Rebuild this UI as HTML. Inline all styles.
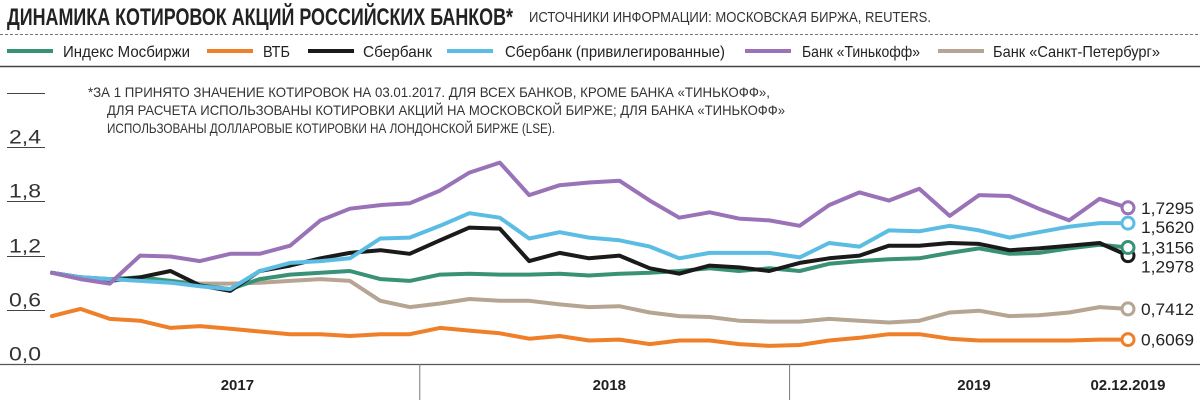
<!DOCTYPE html>
<html><head><meta charset="utf-8"><style>
html,body{margin:0;padding:0;background:#fff;width:1200px;height:400px;overflow:hidden}
svg{display:block;font-family:"Liberation Sans",sans-serif}
</style></head><body>
<svg id="chart" width="1200" height="400" viewBox="0 0 1200 400">
<text x="7" y="25" font-size="24" font-weight="bold" fill="#222" textLength="506" lengthAdjust="spacingAndGlyphs">ДИНАМИКА КОТИРОВОК АКЦИЙ РОССИЙСКИХ БАНКОВ*</text>
<text x="529" y="22" font-size="15" fill="#333" textLength="402" lengthAdjust="spacingAndGlyphs">ИСТОЧНИКИ ИНФОРМАЦИИ: МОСКОВСКАЯ БИРЖА, REUTERS.</text>
<line x1="0" y1="34.5" x2="1200" y2="34.5" stroke="#777" stroke-dasharray="3,2"/>
<line x1="0" y1="66.5" x2="1200" y2="66.5" stroke="#444" stroke-width="1.5"/>
<g id="legend"></g>
<g font-size="14" fill="#333">
<text x="88" y="97" textLength="682" lengthAdjust="spacingAndGlyphs">*ЗА 1 ПРИНЯТО ЗНАЧЕНИЕ КОТИРОВОК НА 03.01.2017. ДЛЯ ВСЕХ БАНКОВ, КРОМЕ БАНКА «ТИНЬКОФФ»,</text>
<text x="107" y="115" textLength="678" lengthAdjust="spacingAndGlyphs">ДЛЯ РАСЧЕТА ИСПОЛЬЗОВАНЫ КОТИРОВКИ АКЦИЙ НА МОСКОВСКОЙ БИРЖЕ; ДЛЯ БАНКА «ТИНЬКОФФ»</text>
<text x="107" y="133" textLength="448" lengthAdjust="spacingAndGlyphs">ИСПОЛЬЗОВАНЫ ДОЛЛАРОВЫЕ КОТИРОВКИ НА ЛОНДОНСКОЙ БИРЖЕ (LSE).</text>
</g>
<g id="yaxis"></g>
<line x1="0" y1="364.5" x2="1200" y2="364.5" stroke="#555" stroke-width="1.2"/>
<g id="xaxis"></g>
<g id="series"></g>
<g id="ends"></g>
</svg>
<script>
const days = [0,28,57,87,117,146,176,205,235,265,294,324,353,383,412,442,471,501,530,560,590,619,649,678,708,738,767,797,826,856,886,915,945,974,1004,1034,1062];
const moex = [1.01,0.96,0.94,0.96,0.92,0.87,0.83,0.94,0.99,1.01,1.03,0.94,0.92,0.99,1.00,0.99,0.99,1.00,0.98,1.00,1.01,1.03,1.06,1.03,1.06,1.03,1.11,1.14,1.16,1.17,1.23,1.28,1.22,1.23,1.28,1.32,1.29];
const vtb = [0.53,0.61,0.50,0.48,0.40,0.42,0.39,0.36,0.33,0.33,0.31,0.33,0.33,0.40,0.37,0.34,0.28,0.31,0.26,0.27,0.22,0.26,0.26,0.22,0.20,0.21,0.26,0.29,0.33,0.33,0.28,0.26,0.26,0.26,0.26,0.27,0.27];
const sber = [1.01,0.96,0.92,0.96,1.03,0.87,0.81,1.03,1.09,1.17,1.23,1.26,1.22,1.37,1.51,1.50,1.14,1.23,1.17,1.20,1.06,1.00,1.09,1.07,1.03,1.12,1.17,1.20,1.31,1.31,1.34,1.33,1.26,1.28,1.31,1.34,1.20];
const sberPref = [1.01,0.96,0.94,0.92,0.90,0.86,0.83,1.03,1.12,1.14,1.17,1.39,1.40,1.53,1.67,1.62,1.39,1.46,1.40,1.37,1.30,1.17,1.23,1.23,1.23,1.18,1.34,1.30,1.48,1.47,1.53,1.48,1.40,1.46,1.52,1.56,1.56];
const tinkoff = [1.01,0.94,0.89,1.20,1.19,1.14,1.22,1.22,1.31,1.59,1.72,1.76,1.78,1.92,2.12,2.23,1.87,1.98,2.01,2.03,1.81,1.62,1.68,1.61,1.59,1.53,1.76,1.90,1.81,1.94,1.64,1.87,1.86,1.72,1.59,1.83,1.73];
const spb = [1.01,0.96,0.94,0.94,0.92,0.89,0.89,0.90,0.92,0.94,0.92,0.70,0.63,0.67,0.72,0.70,0.70,0.66,0.63,0.64,0.57,0.53,0.52,0.48,0.47,0.47,0.50,0.48,0.46,0.48,0.57,0.59,0.53,0.54,0.57,0.63,0.61];
const seriesNames = ["Индекс Мосбиржи","ВТБ","Сбербанк","Сбербанк (привилегированные)","Банк «Тинькофф»","Банк «Санкт-Петербург»"];
const endLabels = ["1,3156","0,6069","1,2978","1,5620","1,7295","0,7412"];
const yTicks = [0,0.6,1.2,1.8,2.4,3.0];
const yTickLabels = ["0,0","0,6","1,2","1,8","2,4",""];
const xLabels = ["2017","2018","2019","02.12.2019"];
const xLabelDays = [183,550,910,1062];
const yearBoundaryDays = [363,728];

const NS="http://www.w3.org/2000/svg";
const X0=52,X1=1128,DMAX=1062;
const xs=d=>X0+d*(X1-X0)/DMAX;
const ys=v=>364-v*90.3;
function mk(tag,attrs,parent){const e=document.createElementNS(NS,tag);for(const k in attrs)e.setAttribute(k,attrs[k]);parent.appendChild(e);return e;}
const colors=["#3a9276","#f07f2a","#1a1a1a","#5bbde3","#9a72b8","#b5a592"];
const data=[moex,vtb,sber,sberPref,tinkoff,spb];
const keys=["moex","vtb","sber","sber-pref","tinkoff","spb"];

// legend
const lg=document.getElementById("legend");
const lgSw=[7,207,308,447,745,938],lgTx=[63,263,363,505,802,993],lgW=[127,27,69,220,118,167];
seriesNames.forEach((n,i)=>{
 const g=mk("g",{},lg);
 
 
 mk("line",{x1:lgSw[i],x2:lgSw[i]+46,y1:51,y2:51,stroke:colors[i],"stroke-width":4},g);
 const t=mk("text",{x:lgTx[i],y:57,"font-size":16,fill:"#222",textLength:lgW[i],lengthAdjust:"spacingAndGlyphs"},g);
 t.textContent=n;
});

// y axis
const ya=document.getElementById("yaxis");
yTicks.forEach((v,i)=>{
 const y=Math.round(ys(v))+0.5;
 if(v!==0){const l=mk("line",{x1:7,x2:45,y1:y,y2:y,stroke:"#444","stroke-width":1},ya);
 
 }
 if(yTickLabels[i]){const t=mk("text",{x:9,y:y-4,"font-size":19,fill:"#333",textLength:32,lengthAdjust:"spacingAndGlyphs"},ya);
 
 
 t.textContent=yTickLabels[i];}
});

// x axis
const xa=document.getElementById("xaxis");
yearBoundaryDays.forEach(d=>{const l=mk("line",{x1:xs(d),x2:xs(d),y1:364,y2:400,stroke:"#777","stroke-width":1},xa);
 
 });
xLabels.forEach((s,i)=>{const t=mk("text",{x:xs(xLabelDays[i]),y:390,"font-size":15,"font-weight":"bold",fill:"#222","text-anchor":"middle"},xa);
 
 
 t.textContent=s;});

// series
const sg=document.getElementById("series");
const order=[5,1,0,2,3,4];
order.forEach(i=>{
 const pts=data[i].map((v,j)=>xs(days[j]).toFixed(1)+","+ys(v).toFixed(1)).join(" ");
 const p=mk("polyline",{points:pts,fill:"none",stroke:colors[i],"stroke-width":4,"stroke-linejoin":"round","stroke-linecap":"round"},sg);
 
 
});
// end markers
const eg=document.getElementById("ends");
[2,0,1,3,4,5].forEach(i=>{
 const arr=data[i],v=arr[arr.length-1];
 const c=mk("circle",{cx:xs(days[days.length-1]),cy:ys(v),r:6,fill:"#fff",stroke:colors[i],"stroke-width":3},eg);
 
 
});
// end labels with collision offsets
const labelY=[];
const idx=[0,1,2,3,4,5].sort((a,b)=>ys(data[a][data[a].length-1])-ys(data[b][data[b].length-1]));
let prev=-1e9;
idx.forEach(i=>{let y=ys(data[i][data[i].length-1]);if(y<prev+19)y=prev+19;prev=y;labelY[i]=y;});
[0,1,2,3,4,5].forEach(i=>{
 const t=mk("text",{x:1141,y:labelY[i]+6,"font-size":17,fill:"#222",textLength:53,lengthAdjust:"spacingAndGlyphs"},eg);
 
 
 t.textContent=endLabels[i];
});
</script>
</body></html>
